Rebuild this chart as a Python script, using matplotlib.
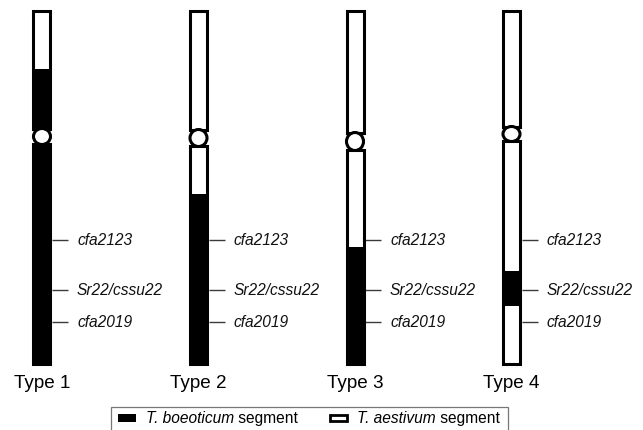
import matplotlib
matplotlib.use("Agg")
import matplotlib.pyplot as plt
from matplotlib.patches import Rectangle, Ellipse

plt.rcParams['font.family'] = ['Liberation Sans', 'DejaVu Sans']

# ---- data ----
types = ["Type 1", "Type 2", "Type 3", "Type 4"]
markers = ["cfa2123", "Sr22/cssu22", "cfa2019"]
marker_pos = [241, 291, 323]          # position along chromosome
chrom_top = [12, 12, 12, 12]
chrom_bottom = [365, 365, 365, 365]
short_arm_end = [130, 131, 134, 128]
long_arm_start = [145, 147, 151, 142]
# T. boeoticum (black) segments per type: (start, end)
boeoticum_segments = [[(70, 130), (145, 365)],
                      [(195, 365)],
                      [(248, 365)],
                      [(272, 307)]]
legend_labels = [("T. boeoticum", " segment"), ("T. aestivum", " segment")]

W, H = 643, 431
fig = plt.figure(figsize=(W / 100, H / 100), dpi=100)
ax = fig.add_axes([0, 0, 1, 1])
ax.axis('off')
px = 156.5  # pixels per category unit
ax.set_xlim(-42 / px, (W - 42) / px)
ax.set_ylim(H, 0)

half_w = 8.5 / px
edge_lw = 2.2

for i, t in enumerate(types):
    # arms
    arms = [(chrom_top[i], short_arm_end[i]), (long_arm_start[i], chrom_bottom[i])]
    for (a, b) in arms:
        ax.add_patch(Rectangle((i - half_w, a), 2 * half_w, b - a,
                               facecolor='white', edgecolor='none', zorder=1))
    for (a, b) in boeoticum_segments[i]:
        ax.add_patch(Rectangle((i - half_w, a), 2 * half_w, b - a,
                               facecolor='black', edgecolor='none', zorder=2))
    for (a, b) in arms:
        ax.add_patch(Rectangle((i - half_w, a), 2 * half_w, b - a,
                               facecolor='none', edgecolor='black', lw=edge_lw,
                               joinstyle='miter', zorder=3))
    # centromere
    cy = (short_arm_end[i] + long_arm_start[i]) / 2
    ch = long_arm_start[i] - short_arm_end[i] + 1
    ax.add_patch(Ellipse((i, cy), 2 * half_w * 1.0, ch,
                         facecolor='white', edgecolor='black', lw=edge_lw, zorder=4))
    # markers
    for m, y in zip(markers, marker_pos):
        ax.plot([i + 10 / px, i + 26 / px], [y, y], color='#3a3a3a', lw=1.0,
                solid_capstyle='butt', zorder=2)
        ax.text(i + 35 / px, y, m, style='italic', fontsize=11.2,
                va='center', ha='left', color='#111111')
    # type label
    ax.text(i, 388, t, fontsize=13.6, ha='center', va='baseline', color='black')

# ---- legend ----
lax = fig.add_axes([0, 0, 1, 1], facecolor='none')
lax.axis('off')
lax.set_xlim(0, W)
lax.set_ylim(H, 0)
lax.add_patch(Rectangle((110.5, 408.5), 397, 40, facecolor='white',
                        edgecolor='#777777', lw=0.9, zorder=1))
lax.add_patch(Rectangle((118, 415), 18, 8, facecolor='black', edgecolor='none', zorder=2))
lax.add_patch(Rectangle((329.5, 416), 17, 6, facecolor='white', edgecolor='black',
                        lw=2.0, zorder=2))
renderer = fig.canvas.get_renderer()
starts = [146, 357]
for (it, rest), x0 in zip(legend_labels, starts):
    t1 = lax.text(x0, 419, it, style='italic', fontsize=11.2, va='center', ha='left', zorder=3)
    bb = t1.get_window_extent(renderer=renderer)
    x1 = bb.x1
    lax.text(x1, 419, rest, fontsize=11.2, va='center', ha='left', zorder=3)

fig.savefig("out.png", dpi=100)
